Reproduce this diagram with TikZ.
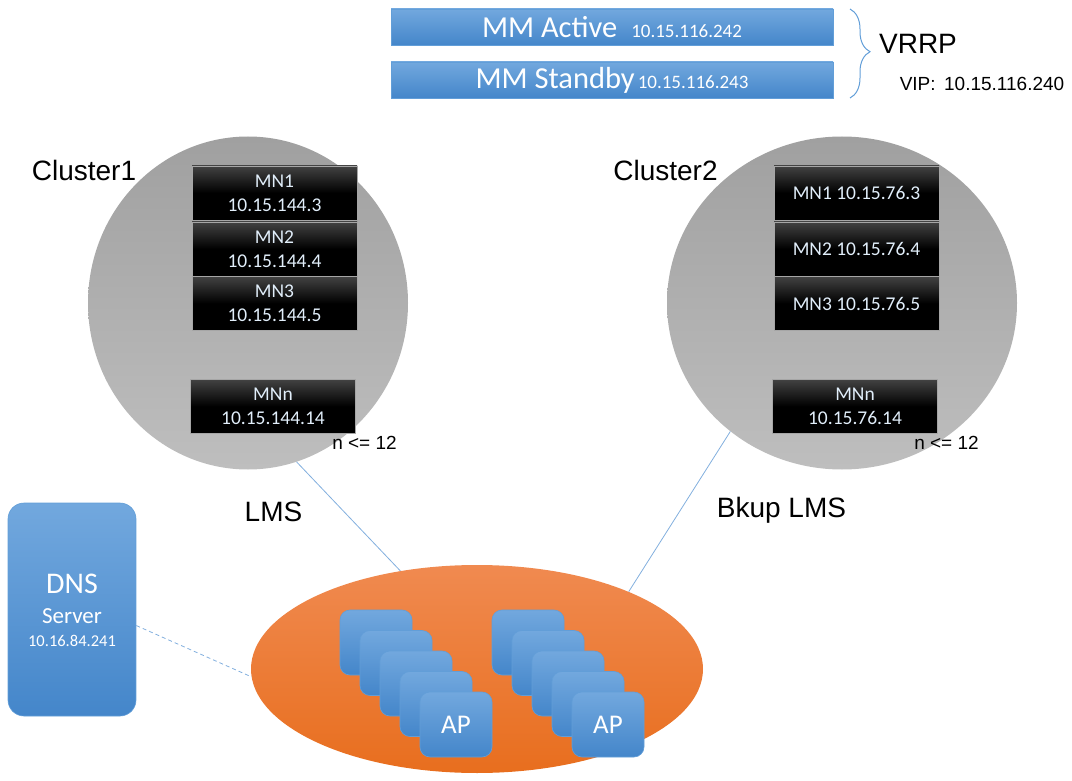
\documentclass[tikz,border=0pt]{standalone}
\usepackage{fontspec}
\setmainfont{Liberation Sans}
\newfontfamily\calib{Carlito}
\usetikzlibrary{shapes.geometric,decorations.pathreplacing}
\definecolor{btop}{RGB}{114,168,222}
\definecolor{bbot}{RGB}{68,134,202}
\definecolor{bline}{RGB}{98,158,216}
\definecolor{otop}{RGB}{240,138,80}
\definecolor{obot}{RGB}{232,110,30}
\definecolor{gtop}{RGB}{160,160,160}
\definecolor{gbot}{RGB}{190,190,190}
\definecolor{mntxt}{RGB}{225,238,250}
\definecolor{link}{RGB}{130,175,222}
\newcommand{\fs}[1]{\fontsize{#1}{#1}\selectfont}
\tikzset{
  mmbar/.style={draw=bline, line width=0.6pt, top color=btop, bottom color=bbot, minimum width=442pt, minimum height=36pt, inner sep=0pt, text=white, font=\calib},
  mnbox/.style={draw=gray!70, line width=0.6pt, top color={rgb,255:red,66;green,66;blue,66}, bottom color=black, middle color=black, minimum width=165pt, minimum height=54pt, inner sep=0pt, text=mntxt, align=center, font=\calib\fontsize{19.5}{24}\selectfont},
  apbox/.style={draw=bline, line width=0.6pt, top color=btop, bottom color=bbot, rounded corners=10pt, minimum width=72pt, minimum height=65pt, inner sep=0pt, text=white, font=\calib\fs{27}},
  cluster/.style={ellipse, top color=gtop, bottom color=gbot, inner sep=0pt},
  lbl/.style={font=\fs{28}, inner sep=0pt},
  smalllbl/.style={font=\fs{19}, inner sep=0pt},
  lnk/.style={draw=link, line width=0.8pt}
}
\begin{document}
\begin{tikzpicture}[x={(1pt,0)}, y={(0,-1pt)}]
\useasboundingbox (0,0) rectangle (1072,781);
% MM bars
\node[mmbar] (mma) at (612,27) {{\fs{30.5}MM Active}\hspace{14pt}{\fs{19}10.15.116.242}};
\node[mmbar] (mms) at (612,80) {{\fs{30.5}MM Standby}\hspace{3pt}{\fs{19}10.15.116.243}};
\coordinate (bt) at (850,9);
\coordinate (bb) at (850,98);
\draw[draw=bline, line width=1pt, decorate, decoration={brace, amplitude=20pt, aspect=0.48}] (bt) -- (bb);
\node[lbl] (vrrp) at (918,44) {VRRP};
\node[font=\fs{19}, inner sep=0pt] (vip) at (982,84) {VIP:\, 10.15.116.240};
% clusters
\node[cluster, minimum width=320pt, minimum height=333pt] (c1) at (248,303) {};
\node[cluster, minimum width=350pt, minimum height=333pt] (c2) at (842,303) {};
\node[lbl] (c1l) at (84,170) {Cluster1};
\node[lbl] (c2l) at (665.5,170) {Cluster2};
% cluster1 MNs
\node[mnbox] (a1) at (274.5,193) {MN1\\10.15.144.3};
\node[mnbox] (a2) at (274.5,249) {MN2\\10.15.144.4};
\node[mnbox] (a3) at (274.5,303.5) {MN3\\10.15.144.5};
\node[mnbox] (an) at (273,406.5) {MNn\\10.15.144.14};
\node[smalllbl] (n1) at (364.5,443) {n <= 12};
% cluster2 MNs
\node[mnbox] (b1) at (856.5,193) {MN1 10.15.76.3};
\node[mnbox] (b2) at (856.5,249) {MN2 10.15.76.4};
\node[mnbox] (b3) at (856.5,303.5) {MN3 10.15.76.5};
\node[mnbox] (bn) at (855,406.5) {MNn\\10.15.76.14};
\node[smalllbl] (n2) at (946.5,443) {n <= 12};
% network
\node[ellipse, top color=otop, bottom color=obot, minimum width=452pt, minimum height=208pt, inner sep=0pt] (net) at (477,669) {};
\draw[lnk] (c1.-73) -- (net.128);
\draw[lnk] (c2.229) -- (net.27);
\node[lbl] (lms) at (273.5,512) {LMS};
\node[lbl] (blms) at (781.5,510) {Bkup LMS};
% APs
\foreach \i in {0,...,3}{
  \node[apbox] (pa\i) at (376+20*\i,642.5+20.5*\i) {};
  \node[apbox] (pb\i) at (528+20*\i,642.5+20.5*\i) {};
}
\node[apbox] (pa4) at (456,724.5) {AP};
\node[apbox] (pb4) at (608,724.5) {AP};
% DNS
\node[draw=bline, line width=0.6pt, top color=btop, bottom color=bbot, rounded corners=16pt, minimum width=128pt, minimum height=213pt, inner sep=0pt] (dns) at (72,609.5) {};
\node[text=white, font=\calib\fs{30}, inner sep=0pt] (dnst) at (72,584) {DNS};
\node[text=white, font=\calib\fs{23}, inner sep=0pt] (dnss) at (72,616) {Server};
\node[text=white, font=\calib\fs{16.5}, inner sep=0pt] (dnsi) at (72,641) {10.16.84.241};
\draw[lnk, dashed, dash pattern=on 4pt off 3pt] (dns.-14) -- (net.182);
\end{tikzpicture}
\end{document}
